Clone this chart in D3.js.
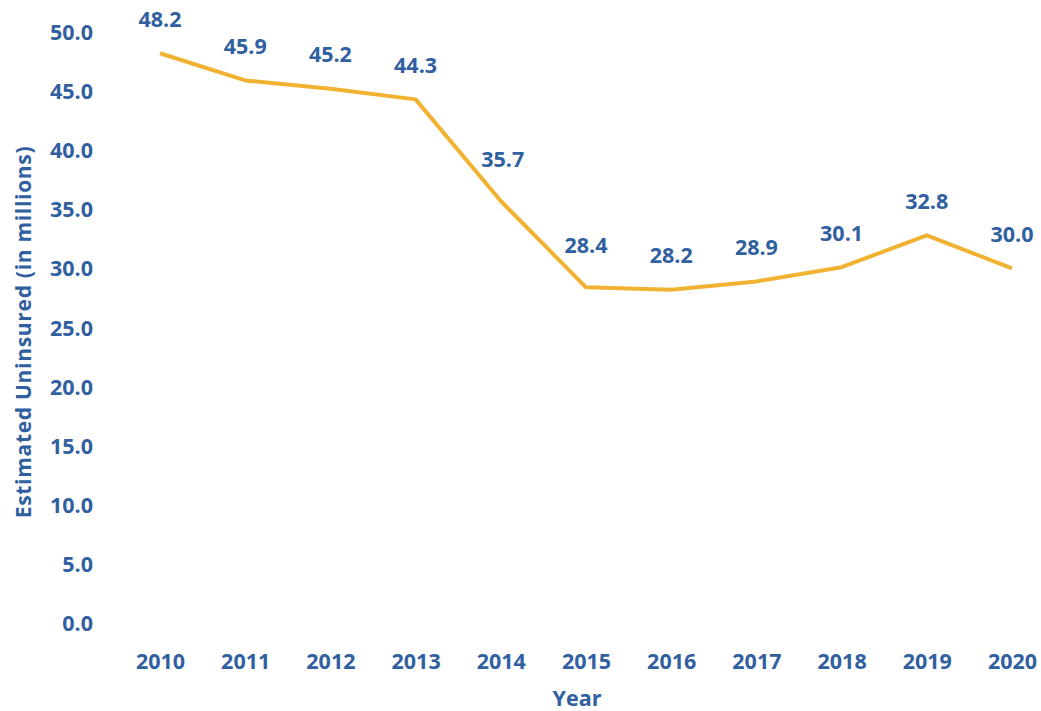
<!DOCTYPE html>
<html>
<head>
<meta charset="utf-8">
<script src="https://cdn.jsdelivr.net/npm/d3@7"></script>
<style>
  html, body { margin: 0; padding: 0; background: #fff; }
  svg text { font-family: "Open Sans", "Lato", sans-serif; font-weight: 700; fill: #30609f; }
</style>
</head>
<body>
<svg id="chart" width="1041" height="711"></svg>
<script>
// Estimated uninsured population, millions, by year
const years = [2010, 2011, 2012, 2013, 2014, 2015, 2016, 2017, 2018, 2019, 2020];
const uninsured = [48.2, 45.9, 45.2, 44.3, 35.7, 28.4, 28.2, 28.9, 30.1, 32.8, 30.0];
const yTicks = [0, 5, 10, 15, 20, 25, 30, 35, 40, 45, 50];

const svg = d3.select("#chart");
const plotLeft = 160, plotRight = 1012, plotTop = 32, plotBottom = 623;
const fontSize = 21.5;

const x = d3.scalePoint().domain(years).range([plotLeft, plotRight]);
const y = d3.scaleLinear().domain([0, 50]).range([plotBottom, plotTop]);

// y axis labels (no axis line, no ticks)
const yAxis = svg.append("g")
  .attr("transform", "translate(93,0)")
  .call(d3.axisLeft(y).tickValues(yTicks).tickFormat(d3.format(".1f")).tickSize(0).tickPadding(0));
yAxis.select(".domain").remove();
yAxis.attr("font-family", null).attr("font-size", null);
yAxis.selectAll("text").attr("font-size", fontSize).attr("dy", "0.35em").attr("fill", null);

// x axis labels
const xAxis = svg.append("g")
  .attr("transform", "translate(0,661)")
  .call(d3.axisBottom(x).tickSize(0).tickPadding(0));
xAxis.select(".domain").remove();
xAxis.attr("font-family", null).attr("font-size", null);
xAxis.selectAll("text").attr("font-size", fontSize).attr("dy", "0.35em").attr("fill", null);

// axis titles
svg.append("text")
  .attr("x", 577).attr("y", 700)
  .attr("text-anchor", "middle").attr("dominant-baseline", "middle")
  .attr("font-size", fontSize)
  .text("Year");

svg.append("text")
  .attr("transform", "translate(25,332) rotate(-90)")
  .attr("text-anchor", "middle").attr("dominant-baseline", "middle")
  .attr("font-size", 21)
  .attr("letter-spacing", 0.7)
  .text("Estimated Uninsured (in millions)");

// series line
const points = years.map((yr, i) => ({ year: yr, value: uninsured[i] }));
const line = d3.line().x(d => x(d.year)).y(d => y(d.value));

svg.append("path")
  .datum(points)
  .attr("d", line)
  .attr("fill", "none")
  .attr("stroke", "#f1b232")
  .attr("stroke-width", 4)
  .attr("stroke-linejoin", "round")
  .attr("stroke-linecap", "butt");

// value labels above each point; the steep 2014–2015 drop gets a little more room
const lift = d => (d.year === 2014 || d.year === 2015) ? 40 : 32;
svg.append("g").selectAll("text")
  .data(points)
  .join("text")
  .attr("x", d => x(d.year) + (d.year === 2014 ? 2 : 0))
  .attr("y", d => y(d.value) - lift(d))
  .attr("text-anchor", "middle")
  .attr("dominant-baseline", "middle")
  .attr("font-size", fontSize)
  .text(d => d3.format(".1f")(d.value));
</script>
</body>
</html>
